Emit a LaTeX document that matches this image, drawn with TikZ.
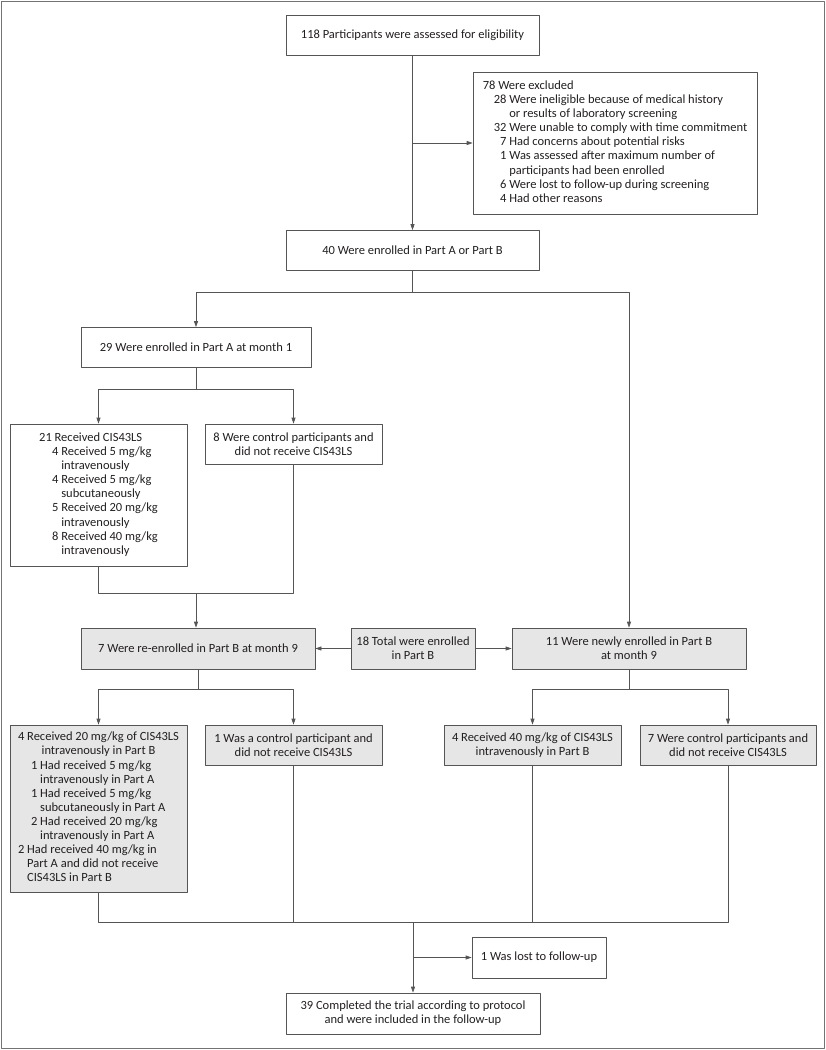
\documentclass[tikz,border=0pt]{standalone}
\usepackage{fontspec}
\setmainfont{Carlito}
\usetikzlibrary{arrows.meta}
\definecolor{linegray}{RGB}{85,85,85}
\definecolor{boxfill}{RGB}{230,230,230}
\definecolor{framegray}{RGB}{115,115,115}
\definecolor{txt}{RGB}{35,31,32}
\begin{document}
\begin{tikzpicture}[x=1pt, y=-1pt, font=\fontsize{12.5}{14.1}\selectfont, line join=round,
		>={Triangle[length=6pt,width=4pt]},
		box/.style={draw=linegray, line width=0.7pt, text=txt, align=center, inner sep=0pt, minimum height=40pt},
		shaded/.style={box, fill=boxfill},
		link/.style={draw=linegray, line width=0.7pt}]
	\useasboundingbox (0,0) rectangle (826,1050);
	\draw[framegray, line width=1.6pt] (1.5,1.5) rectangle (824.5,1048.5);
	\node[box, minimum width=253pt] (assess) at (412.5,35) {118 Participants were assessed for eligibility};
	\node[box, minimum width=284pt, minimum height=142pt] (excl) at (615,143) {\begin{tabular}{@{}r@{ }l@{}}
			\multicolumn{2}{@{}l@{}}{78 Were excluded}\\
			\hspace{11pt}28 & Were ineligible because of medical history\\
			& or results of laboratory screening\\
			32 & Were unable to comply with time commitment\\
			7 & Had concerns about potential risks\\
			1 & Was assessed after maximum number of\\
			& participants had been enrolled\\
			6 & Were lost to follow-up during screening\\
			4 & Had other reasons
		\end{tabular}};
	\node[box, minimum width=253pt] (enrol) at (412.5,250.5) {40 Were enrolled in Part A or Part B};
	\node[box, minimum width=230pt] (partA) at (196,347.5) {29 Were enrolled in Part A at month 1};
	\node[box, minimum width=177pt, minimum height=142pt] (recv) at (98.5,495) {\begin{tabular}{@{}r@{ }l@{}}
			\multicolumn{2}{@{}l@{}}{21 Received CIS43LS}\\
			\hspace{13pt}4 & Received 5 mg/kg\\
			& intravenously\\
			4 & Received 5 mg/kg\\
			& subcutaneously\\
			5 & Received 20 mg/kg\\
			& intravenously\\
			8 & Received 40 mg/kg\\
			& intravenously
		\end{tabular}};
	\node[box, minimum width=177pt] (ctrlA) at (293.5,444) {8 Were control participants and\\did not receive CIS43LS};
	\node[shaded, minimum width=234pt, minimum height=41pt] (reenrol) at (198,648.5) {7 Were re-enrolled in Part B at month 9};
	\node[shaded, minimum width=124pt, minimum height=41pt] (total) at (413,648.5) {18 Total were enrolled\\in Part B};
	\node[shaded, minimum width=234pt, minimum height=41pt] (newB) at (629,648.5) {11 Were newly enrolled in Part B\\at month 9};
	\node[shaded, minimum width=177pt, minimum height=167pt] (rec20) at (98.5,808.5) {\begin{tabular}{@{}l@{}}
			\multicolumn{1}{@{}c@{}}{4 Received 20 mg/kg of CIS43LS}\\
			\multicolumn{1}{@{}c@{}}{intravenously in Part B}\\
			\hspace{13pt}1 Had received 5 mg/kg\\
			\hspace{13pt}\phantom{1 }intravenously in Part A\\
			\hspace{13pt}1 Had received 5 mg/kg\\
			\hspace{13pt}\phantom{1 }subcutaneously in Part A\\
			\hspace{13pt}2 Had received 20 mg/kg\\
			\hspace{13pt}\phantom{2 }intravenously in Part A\\
			2 Had received 40 mg/kg in\\
			\phantom{2 }Part A and did not receive\\
			\phantom{2 }CIS43LS in Part B
		\end{tabular}};
	\node[shaded, minimum width=177pt] (ctrlB1) at (293.5,745) {1 Was a control participant and\\did not receive CIS43LS};
	\node[shaded, minimum width=177pt] (rec40) at (532.5,745) {4 Received 40 mg/kg of CIS43LS\\intravenously in Part B};
	\node[shaded, minimum width=176pt] (ctrlB2) at (728,745) {7 Were control participants and\\did not receive CIS43LS};
	\node[box, minimum width=134pt, minimum height=41pt] (lost) at (539,957.5) {1 Was lost to follow-up};
	\node[box, minimum width=254pt, minimum height=41pt] (done) at (413,1013.5) {39 Completed the trial according to protocol\\and were included in the follow-up};
	\coordinate (split1) at (412.5,292);
	\coordinate (split2) at (196,389);
	\coordinate (join1) at (196,593);
	\coordinate (split3) at (198,689);
	\coordinate (split4) at (629,689);
	\coordinate (join2) at (413,922);
	\draw[link,->] (assess) -- (enrol);
	\draw[link,->] (assess.south |- excl.west) -- (excl.west);
	\draw[link] (enrol) -- (split1);
	\draw[link,->] (split1) -| (partA.north);
	\draw[link,->] (split1) -| (newB.north);
	\draw[link] (partA) -- (split2);
	\foreach \n in {recv,ctrlA}{
		\draw[link,->] (split2) -| (\n.north);
		\draw[link] (\n.south) |- (join1);
	}
	\draw[link,->] (join1) -- (join1 |- reenrol.north);
	\draw[link,->] (total) -- (reenrol);
	\draw[link,->] (total) -- (newB);
	\draw[link] (reenrol) -- (split3);
	\draw[link] (newB) -- (split4);
	\foreach \n in {rec20,ctrlB1}{
		\draw[link,->] (split3) -| (\n.north);
	}
	\foreach \n in {rec40,ctrlB2}{
		\draw[link,->] (split4) -| (\n.north);
	}
	\foreach \n in {rec20,ctrlB1,rec40,ctrlB2}{
		\draw[link] (\n.south) |- (join2);
	}
	\draw[link,->] (join2) -- (done);
	\draw[link,->] (join2 |- lost.west) -- (lost.west);
\end{tikzpicture}
\end{document}
